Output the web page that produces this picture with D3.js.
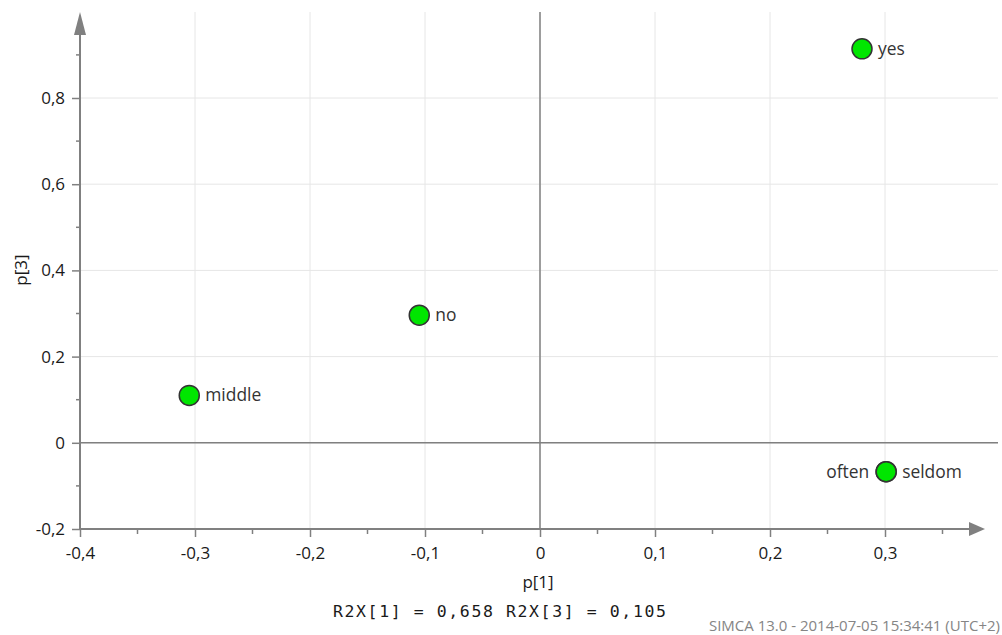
<!DOCTYPE html>
<html><head><meta charset="utf-8">
<script src="https://cdnjs.cloudflare.com/ajax/libs/d3/7.8.5/d3.min.js"></script>
<style>body{margin:0;background:#fff}svg{display:block}</style>
</head><body>
<svg id="c" width="1002" height="635"></svg>
<script>
const labels = ["yes", "no", "middle", "often", "seldom"];
const p1 = [0.280, -0.105, -0.305, 0.301, 0.301];
const p3 = [0.914, 0.296, 0.110, -0.067, -0.067];
const labelSide = ["right", "right", "right", "left", "right"];
const xTicks = [-0.4, -0.3, -0.2, -0.1, 0, 0.1, 0.2, 0.3];
const yTicks = [-0.2, 0, 0.2, 0.4, 0.6, 0.8];
const xMinorTicks = [-0.35, -0.25, -0.15, -0.05, 0.05, 0.15, 0.25, 0.35];
const yMinorTicks = [-0.1, 0.1, 0.3, 0.5, 0.7, 0.9];
const footer = "SIMCA 13.0 - 2014-07-05 15:34:41 (UTC+2)";
const subtitle = "R2X[1] = 0,658 R2X[3] = 0,105";

const svg = d3.select("#c");
const x = d3.scaleLinear().domain([-0.4, 0.4]).range([80, 1000]);
const y = d3.scaleLinear().domain([-0.2, 0.8]).range([529, 98]);
const fmt = d => d === 0 ? "0" : d.toFixed(1).replace(".", ",");
const font = "'Open Sans', 'Noto Sans', sans-serif";
const axisCol = "#808080";
const xMax = 985, yTopArrow = 12;

// gridlines
const g = svg.append("g");
g.selectAll(".vg").data(xTicks.filter(d => d > -0.4)).join("line")
  .attr("x1", d => x(d)).attr("x2", d => x(d)).attr("y1", 12).attr("y2", y(-0.2))
  .attr("stroke", "#e6e6e6").attr("stroke-width", 1);
g.selectAll(".hg").data(yTicks.filter(d => d > -0.2)).join("line")
  .attr("x1", x(-0.4)).attr("x2", 998).attr("y1", d => y(d)).attr("y2", d => y(d))
  .attr("stroke", "#e6e6e6").attr("stroke-width", 1);

// zero lines
svg.append("line").attr("x1", x(-0.4)).attr("x2", 998).attr("y1", y(0)).attr("y2", y(0))
  .attr("stroke", axisCol).attr("stroke-width", 1.5);
svg.append("line").attr("x1", x(0)).attr("x2", x(0)).attr("y1", 12).attr("y2", y(-0.2))
  .attr("stroke", axisCol).attr("stroke-width", 1.5);

// x axis
const xAxis = d3.axisBottom(x).tickValues(xTicks).tickFormat(fmt).tickSize(8).tickPadding(10);
const xg = svg.append("g").attr("transform", `translate(0,${y(-0.2)})`).call(xAxis);
xg.select(".domain").remove();
xg.append("line").attr("x1", x(-0.4)).attr("x2", xMax - 14).attr("y1", 0).attr("y2", 0)
  .attr("stroke", axisCol).attr("stroke-width", 2);
xg.append("path").attr("d", `M${xMax-16},-7 L${xMax},0 L${xMax-16},7 Z`).attr("fill", axisCol);
xg.selectAll(".mn").data(xMinorTicks).join("line")
  .attr("x1", d => x(d)).attr("x2", d => x(d)).attr("y1", 0).attr("y2", 5)
  .attr("stroke", axisCol).attr("stroke-width", 1.5);

// y axis
const yAxis = d3.axisLeft(y).tickValues(yTicks).tickFormat(fmt).tickSize(8).tickPadding(7);
const yg = svg.append("g").attr("transform", `translate(${x(-0.4)},0)`).call(yAxis);
yg.select(".domain").remove();
yg.append("line").attr("x1", 0).attr("x2", 0).attr("y1", y(-0.2)).attr("y2", yTopArrow + 22)
  .attr("stroke", axisCol).attr("stroke-width", 2);
yg.append("path").attr("d", `M-6,${yTopArrow+23} L0,${yTopArrow} L6,${yTopArrow+23} Z`).attr("fill", axisCol);
yg.selectAll(".mn").data(yMinorTicks).join("line")
  .attr("x1", -4).attr("x2", 0).attr("y1", d => y(d)).attr("y2", d => y(d))
  .attr("stroke", axisCol).attr("stroke-width", 1.5);

[xg, yg].forEach(a => {
  a.selectAll(".tick line").attr("stroke", axisCol).attr("stroke-width", 1.5);
  a.selectAll(".tick text").attr("fill", "#1a1a1a").style("font-family", font).style("font-size", "17px");
});

// points
const data = labels.map((l, i) => ({l, x: p1[i], y: p3[i], side: labelSide[i]}));
svg.selectAll("circle.pt").data(data).join("circle").attr("class", "pt")
  .attr("cx", d => x(d.x)).attr("cy", d => y(d.y)).attr("r", 10)
  .attr("fill", "#00e600").attr("stroke", "#333").attr("stroke-width", 1.5);
svg.selectAll("text.lb").data(data).join("text").attr("class", "lb")
  .attr("x", d => x(d.x) + (d.side === "right" ? 16 : -17))
  .attr("y", d => y(d.y)).attr("dy", "0.35em")
  .attr("text-anchor", d => d.side === "right" ? "start" : "end")
  .attr("fill", "#333").style("font-family", font).style("font-size", "17.4px")
  .text(d => d.l);

// axis titles
svg.append("text").attr("x", 538).attr("y", 588).attr("text-anchor", "middle")
  .attr("fill", "#1a1a1a").style("font-family", font).style("font-size", "17px").text("p[1]");
svg.append("text").attr("transform", "translate(27,270) rotate(-90)").attr("text-anchor", "middle")
  .attr("fill", "#1a1a1a").style("font-family", font).style("font-size", "17px").text("p[3]");
svg.append("text").attr("x", 333).attr("y", 617).attr("text-anchor", "start")
  .attr("fill", "#1a1a1a").style("font-family", "'DejaVu Sans Mono', monospace").style("font-size", "16.5px")
  .style("letter-spacing", "1.6px")
  .text(subtitle);
svg.append("text").attr("x", 1000).attr("y", 631).attr("text-anchor", "end")
  .attr("fill", "#858585").style("font-family", font).style("font-size", "15px").text(footer);
</script>
</body></html>
